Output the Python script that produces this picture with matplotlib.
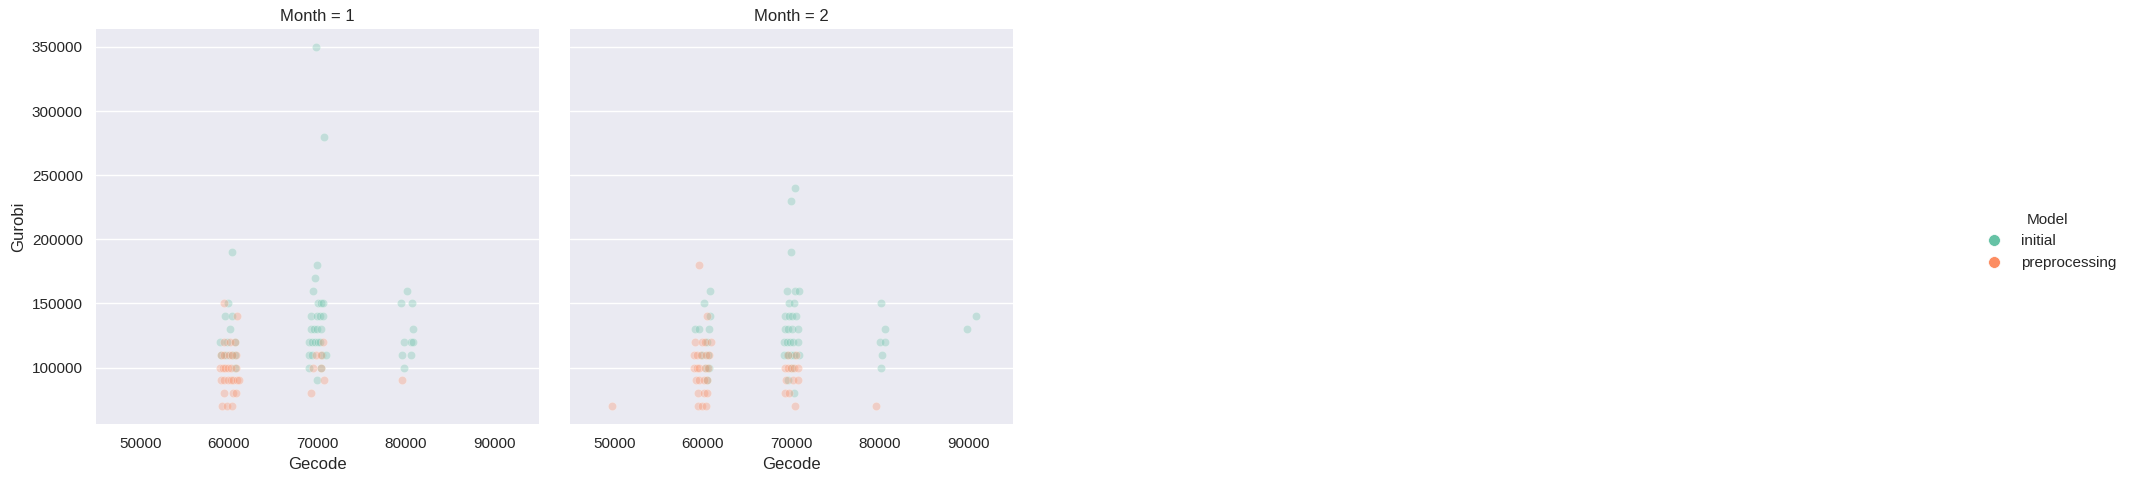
import matplotlib
matplotlib.use("Agg")
import matplotlib.pyplot as plt
from matplotlib.lines import Line2D
import seaborn as sns

# Month 1 -- initial model
m1_init_gecode = [60320, 59940, 59530, 60400, 60170, 59000, 59800, 60650,
                  59100, 59700, 60300, 60700, 60700,
                  69780, 70760, 69970, 69740, 69440, 70110, 70420, 70640,
                  69210, 69890, 70260, 70640, 69210, 69590, 69890, 70420,
                  69050, 69400, 69750, 70100, 70300, 69050, 69400, 70500, 71000,
                  69000, 70350, 69890,
                  80060, 79460, 80660, 80780, 79720, 80580, 80800, 79530, 80510, 79800]
m1_init_gurobi = [190000, 150000, 140000, 140000, 130000, 120000, 120000, 120000,
                  110000, 110000, 110000, 110000, 100000,
                  350000, 280000, 180000, 170000, 160000, 150000, 150000, 150000,
                  140000, 140000, 140000, 140000, 130000, 130000, 130000, 130000,
                  120000, 120000, 120000, 120000, 120000, 110000, 110000, 110000, 110000,
                  100000, 100000, 90000,
                  160000, 150000, 150000, 130000, 120000, 120000, 120000, 110000, 110000, 100000]

# Month 1 -- preprocessing model
m1_pre_gecode = [59490, 60960, 59490, 60090, 60660,
                 59100, 59500, 60000, 60400, 60800,
                 59050, 59300, 59600, 59900, 60250, 60750,
                 59150, 59500, 59850, 60200, 60500, 60900, 61100,
                 59500, 60450, 60850, 59250, 59800, 60300,
                 70640, 69800, 70350, 69500, 70450, 70720, 69290,
                 79530]
m1_pre_gurobi = [150000, 140000, 120000, 120000, 120000,
                 110000, 110000, 110000, 110000, 110000,
                 100000, 100000, 100000, 100000, 100000, 100000,
                 90000, 90000, 90000, 90000, 90000, 90000, 90000,
                 80000, 80000, 80000, 70000, 70000, 70000,
                 120000, 110000, 110000, 100000, 100000, 90000, 80000,
                 90000]

# Month 2 -- initial model
m2_init_gecode = [60770, 60090, 60850, 59150, 59530, 60740, 60500,
                  59900, 60600, 60300, 60700, 60500,
                  70400, 69900, 69900, 69500, 70400, 70900, 69700, 70300,
                  69300, 69700, 70000, 70500, 69300, 69600, 70000, 70700,
                  69200, 69500, 69800, 70200, 70700, 69200, 69500, 69900, 70300, 70800,
                  70000, 69600, 70300,
                  80100, 80500, 80000, 80600, 80200, 80100,
                  90800, 89800]
m2_init_gurobi = [160000, 150000, 140000, 130000, 130000, 130000, 120000,
                  110000, 110000, 100000, 100000, 90000,
                  240000, 230000, 190000, 160000, 160000, 160000, 150000, 150000,
                  140000, 140000, 140000, 140000, 130000, 130000, 130000, 130000,
                  120000, 120000, 120000, 120000, 120000, 110000, 110000, 110000, 110000, 110000,
                  100000, 90000, 80000,
                  150000, 130000, 120000, 120000, 110000, 100000,
                  140000, 130000]

# Month 2 -- preprocessing model
m2_pre_gecode = [49700, 59600, 60470, 59080, 59910, 60280, 60930,
                 59000, 59300, 59800, 60400, 60700,
                 59000, 59300, 59600, 60200, 60600,
                 59250, 59550, 60100, 60450, 59450, 60150, 60500,
                 59450, 59900, 60300,
                 69600, 70500, 69300, 69600, 69900, 70300, 70700,
                 69400, 70200, 70700, 69300, 69700, 70400,
                 79500]
m2_pre_gurobi = [70000, 180000, 140000, 120000, 120000, 120000, 120000,
                 110000, 110000, 110000, 110000, 110000,
                 100000, 100000, 100000, 100000, 100000,
                 90000, 90000, 90000, 90000, 80000, 80000, 80000,
                 70000, 70000, 70000,
                 110000, 110000, 100000, 100000, 100000, 100000, 100000,
                 90000, 90000, 90000, 80000, 80000, 70000,
                 70000]

months = [1, 2]
models = ["initial", "preprocessing"]
colors = ["#66c2a5", "#fc8d62"]
x_ticks = [50000, 60000, 70000, 80000, 90000]

sns.set_theme(style="darkgrid")
plt.rcParams['font.family'] = ['Liberation Sans', 'DejaVu Sans']

W, H = 2137, 483
fig = plt.figure(figsize=(W / 100, H / 100), dpi=100)
ax1 = fig.add_axes([96 / W, 59 / H, 443 / W, 395 / H])
ax2 = fig.add_axes([570 / W, 59 / H, 443 / W, 395 / H], sharex=ax1, sharey=ax1)

panels = [
    (ax1, [(m1_init_gecode, m1_init_gurobi), (m1_pre_gecode, m1_pre_gurobi)]),
    (ax2, [(m2_init_gecode, m2_init_gurobi), (m2_pre_gecode, m2_pre_gurobi)]),
]

for (ax, series), month in zip(panels, months):
    for (gx, gy), col in zip(series, colors):
        ax.scatter(gx, gy, s=36, color=col, alpha=0.3, edgecolor='white', linewidth=0.5)
    ax.set_title(f"Month = {month}", fontsize=12)
    ax.set_xlabel("Gecode", fontsize=12)
    ax.grid(axis='x', visible=False)
    for sp in ax.spines.values():
        sp.set_visible(False)
    ax.tick_params(labelsize=11)

ax1.set_ylabel("Gurobi", fontsize=12)
ax1.set_xticks(x_ticks)
ax1.set_xlim(45000, 95000)
ax1.set_ylim(56000, 364000)
ax2.tick_params(labelleft=False)

handles = [Line2D([], [], marker='o', linestyle='', color=c, markersize=8.5,
                  markeredgecolor='white', markeredgewidth=0.5) for c in colors]
fig.legend(handles, models, title="Model", loc='center right',
           bbox_to_anchor=(0.997, 0.5), frameon=False, fontsize=11, title_fontsize=11)

plt.savefig("out.png", dpi=100)
